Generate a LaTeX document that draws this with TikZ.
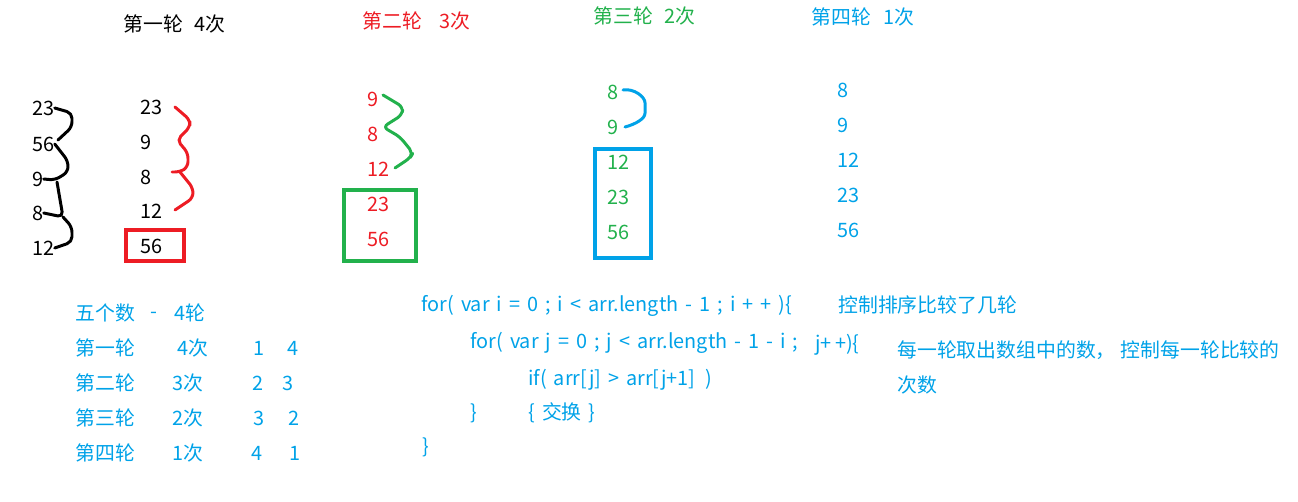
\documentclass[tikz,border=0pt]{standalone}
\usepackage{fontspec}
\setmainfont{Noto Sans CJK SC}
\definecolor{pred}{RGB}{237,28,36}
\definecolor{pgreen}{RGB}{34,177,76}
\definecolor{pblue}{RGB}{0,162,232}
\tikzset{
  txt/.style={anchor=west, inner sep=0pt, font=\fontsize{11.3}{13}\selectfont},
  code/.style={txt, execute at begin node={\spaceskip=0.14cm\relax}},
  hand/.style={line width=1.7pt, rounded corners=3pt, line cap=round, line join=round},
  hbox/.style={line width=2.3pt},
}
\begin{document}
\begin{tikzpicture}[x=0.02cm, y=-0.02cm]
\useasboundingbox (0,0) rectangle (1298,501);
% titles
\node[txt] (t1) at (123,24) {第一轮\hspace{0.24cm}4次};
\node[txt, pred] (t2) at (362,21) {第二轮\hspace{0.36cm}3次};
\node[txt, pgreen] (t3) at (593,16) {第三轮\hspace{0.24cm}2次};
\node[txt, pblue] (t4) at (811,17) {第四轮\hspace{0.26cm}1次};
% start
\node[txt] (a1) at (32,108) {23};
\node[txt] (a2) at (32,144) {56};
\node[txt] (a3) at (32,179) {9};
\node[txt] (a4) at (32,213) {8};
\node[txt] (a5) at (32,248) {12};
\coordinate (aj) at (63,217);
\draw[hand] (a1.east) -- (72,113) -- (72,127) -- (58,140);
\draw[hand] (a2.east) -- (68,161) -- (68,172) -- (55,180) -- (a3.east);
\draw[hand] (57,182) -- (aj) -- (a4.east);
\draw[hand] (aj) -- (72,227) -- (72,242) -- (a5.east);
% round 1
\node[txt] (b1) at (140,107) {23};
\node[txt] (b2) at (140,142) {9};
\node[txt] (b3) at (140,177) {8};
\node[txt] (b4) at (140,211) {12};
\node[txt] (b5) at (140,246) {56};
\draw[hbox, pred] (126,230) rectangle (184,261);
\coordinate (bs) at (175,107);
\coordinate (bm) at (180,172);
\coordinate (be) at (175,210);
\draw[hand, pred] (bs) -- (190,120) -- (190,127) -- (177,140) -- (188,153) -- (188,167) -- (bm) -- (172,172);
\draw[hand, pred] (bm) -- (193,188) -- (193,198) -- (be);
% round 2
\node[txt, pred] (c1) at (367,99) {9};
\node[txt, pred] (c2) at (367,134) {8};
\node[txt, pred] (c3) at (367,169) {12};
\node[txt, pred] (c4) at (367,204) {23};
\node[txt, pred] (c5) at (367,239) {56};
\draw[hbox, pgreen] (344,190) rectangle (416,261);
\coordinate (cs) at (383,95);
\coordinate (ce) at (395,168);
\draw[hand, pgreen] (cs) -- (403,107) -- (402,115) -- (383,127) -- (400,137) -- (413,153) -- (410,158) -- (ce);
% round 3
\node[txt, pgreen] (d1) at (607,92) {8};
\node[txt, pgreen] (d2) at (607,127) {9};
\node[txt, pgreen] (d3) at (607,162) {12};
\node[txt, pgreen] (d4) at (607,197) {23};
\node[txt, pgreen] (d5) at (607,232) {56};
\draw[hbox, pblue] (595,149) rectangle (651,258);
\coordinate (ds) at (623,90);
\coordinate (de) at (625,127);
\draw[hand, pblue] (ds) to[out=10,in=90] (645,108) to[out=-90,in=15] (de);
% round 4
\node[txt, pblue] (e1) at (837,90) {8};
\node[txt, pblue] (e2) at (837,125) {9};
\node[txt, pblue] (e3) at (837,160) {12};
\node[txt, pblue] (e4) at (837,195) {23};
\node[txt, pblue] (e5) at (837,230) {56};
% table
\begin{scope}[every node/.style={txt, pblue}]
\node (r0a) at (75,313) {五个数};
\node (r0b) at (150,315) {-};
\node (r0c) at (174,313) {4轮};
\node (r1a) at (75,348) {第一轮};
\node (r1b) at (177,348) {4次};
\node (r1c) at (253,348) {1};
\node (r1d) at (287,348) {4};
\node (r2a) at (75,383) {第二轮};
\node (r2b) at (172,383) {3次};
\node (r2c) at (252,383) {2};
\node (r2d) at (282,383) {3};
\node (r3a) at (75,418) {第三轮};
\node (r3b) at (172,418) {2次};
\node (r3c) at (253,418) {3};
\node (r3d) at (288,418) {2};
\node (r4a) at (75,453) {第四轮};
\node (r4b) at (172,453) {1次};
\node (r4c) at (251,453) {4};
\node (r4d) at (289,453) {1};
\end{scope}
% code
\begin{scope}[every node/.style={code, pblue}]
\node (k1) at (421,306) {for( var i = 0 ; i < arr.length - 1 ; i + + )\{};
\node (k2) at (470,343) {for( var j = 0 ; j < arr.length - 1 - i ;};
\node (k2b) at (815,345) {j+\,+)\{};
\node (k3) at (528,380) {if( arr[j] > arr[j+1]\hspace{0.2cm})};
\node (k4) at (470,413) {\}};
\node (k4b) at (528,413) {\{ 交换 \}};
\node (k5) at (422,447) {\}};
% notes
\node[txt] (n1) at (838,305) {控制排序比较了几轮};
\node[txt] (n2) at (897,350) {每一轮取出数组中的数，\hspace{0.1cm}控制每一轮比较的};
\node[txt] (n3) at (897,385) {次数};
\end{scope}
\end{tikzpicture}
\end{document}
